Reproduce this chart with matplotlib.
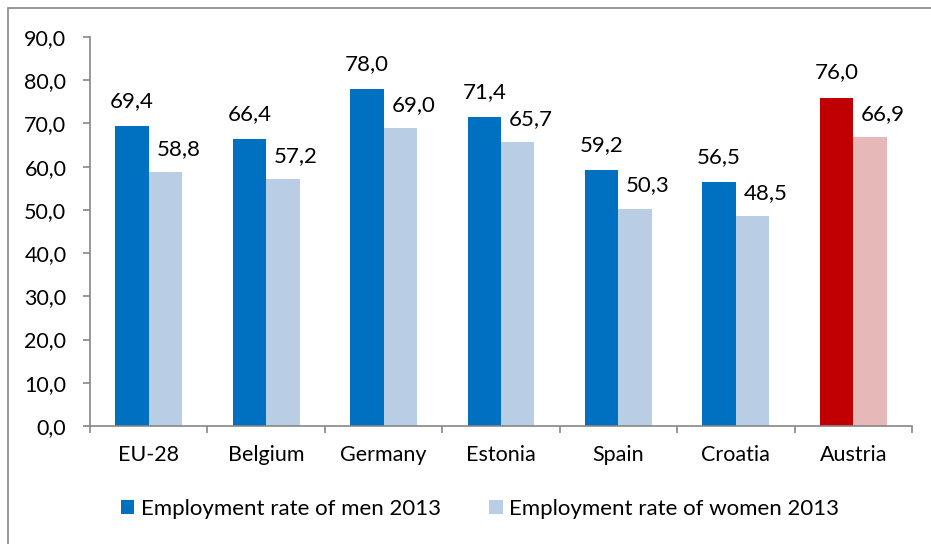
import matplotlib
matplotlib.use("Agg")
import matplotlib.pyplot as plt
from matplotlib.patches import Rectangle
import numpy as np

plt.rcParams['font.family'] = ['Lato', 'DejaVu Sans']

countries = ['EU-28', 'Belgium', 'Germany', 'Estonia', 'Spain', 'Croatia', 'Austria']
men = [69.4, 66.4, 78.0, 71.4, 59.2, 56.5, 76.0]
women = [58.8, 57.2, 69.0, 65.7, 50.3, 48.5, 66.9]
men_colors = ['#0070C0'] * 6 + ['#C00000']
women_colors = ['#B9CDE5'] * 6 + ['#E6B9B8']

W, H = 931, 544
fig = plt.figure(figsize=(W / 100, H / 100), dpi=100)
ax = fig.add_axes([90 / W, 1 - 426 / H, (912 - 90) / W, (426 - 37) / H])

x = np.arange(len(countries))
bw = 0.285
b1 = ax.bar(x - bw / 2, men, bw, color=men_colors, label='Employment rate of men 2013')
b2 = ax.bar(x + bw / 2, women, bw, color=women_colors, label='Employment rate of women 2013')

fmt = lambda v: f'{v:.1f}'.replace('.', ',')
# women labels sit a bit to the right, like excel places them
for bars, vals, off in ((b1, men, (0, 19)), (b2, women, (13, 17))):
    for r, v in zip(bars, vals):
        ax.annotate(fmt(v), (r.get_x() + r.get_width() / 2, v), xytext=off,
                    textcoords='offset pixels', ha='center', va='baseline', fontsize=16)

ax.set_xlim(-0.5, len(countries) - 0.5)
ax.set_ylim(0, 90)
ax.set_yticks(np.arange(0, 91, 10))
ax.set_yticklabels([fmt(v) for v in np.arange(0, 91, 10)], fontsize=15.5)
ax.set_xticks(x)
ax.set_xticklabels(countries, fontsize=15.5)
ax.set_xticks(np.arange(-0.5, len(countries), 1), minor=True)
ax.tick_params(axis='x', which='major', length=0, pad=14)
ax.tick_params(axis='x', which='minor', length=5, color='#868686', width=1.2)
ax.tick_params(axis='y', length=5, color='#868686', width=1.2, pad=12)

for s in ['top', 'right']:
    ax.spines[s].set_visible(False)
for s in ['left', 'bottom']:
    ax.spines[s].set_color('#868686')
    ax.spines[s].set_linewidth(1.2)

fig.legend(handles=[b1[0], b2[0]], labels=['Employment rate of men 2013', 'Employment rate of women 2013'],
           loc='center', bbox_to_anchor=(480 / W, 1 - 509 / H), ncol=2, frameon=False,
           fontsize=16, handlelength=0.6, handleheight=0.6, handletextpad=0.3, columnspacing=2.2)

fig.patches.append(Rectangle((8 / W, -0.1), 1.2, 1 - 7.5 / H + 0.1, transform=fig.transFigure,
                             fill=False, edgecolor='#868686', linewidth=1.2))

fig.savefig('out.png', dpi=100)
